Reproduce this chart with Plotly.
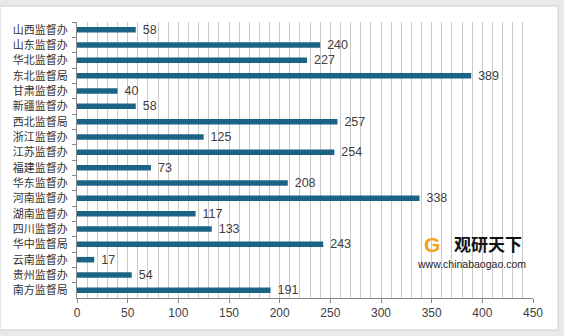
import plotly.graph_objects as go

categories = ["山西监督办", "山东监督办", "华北监督办", "东北监督局", "甘肃监督办", "新疆监督办",
              "西北监督局", "浙江监督办", "江苏监督办", "福建监督办", "华东监督办", "河南监督办",
              "湖南监督办", "四川监督办", "华中监督局", "云南监督办", "贵州监督办", "南方监督局"]
values = [58, 240, 227, 389, 40, 58, 257, 125, 254, 73, 208, 338, 117, 133, 243, 17, 54, 191]
x_ticks = [0, 50, 100, 150, 200, 250, 300, 350, 400, 450]

fig = go.Figure()
fig.add_trace(go.Bar(
    y=categories, x=values, orientation="h",
    marker=dict(color="#1c6485", line=dict(width=0)),
    width=0.36,
    text=["  " + str(v) for v in values], textposition="outside",
    constraintext="none",
    textfont=dict(size=12.5, color="#404040", family="Liberation Sans, Arial"),
    cliponaxis=False,
))

fig.update_layout(
    width=564, height=336,
    margin=dict(l=77, r=31, t=22, b=38),
    paper_bgcolor="#e9e9e9",
    plot_bgcolor="#f6f6f6",
    showlegend=False,
    bargap=0.6,
    font=dict(family="Noto Sans CJK SC", size=11, color="#333333"),
    shapes=[dict(type="rect", xref="paper", yref="paper",
                 x0=-77/456, x1=(558-77)/456, y0=-(330-298)/276, y1=(22-6)/276 + 1,
                 fillcolor="white", line=dict(color="#d0d0d0", width=1), layer="below")],
    annotations=[
        dict(text="<b>观研天下</b>", x=(452-77)/456, y=(298-243)/276, xref="paper", yref="paper",
             showarrow=False, font=dict(size=17, color="#111111", family="Noto Sans CJK SC"),
             xanchor="left", yanchor="middle"),
        dict(text="www.chinabaogao.com", x=(415-77)/456, y=(298-264)/276, xref="paper", yref="paper",
             showarrow=False, font=dict(size=10.5, color="#222222", family="Liberation Sans, Arial"),
             xanchor="left", yanchor="middle"),
        dict(text="<b>G</b>", x=(432-77)/456, y=(298-244)/276, xref="paper", yref="paper",
             showarrow=False, font=dict(size=21, color="#f5a21b", family="Liberation Sans"),
             xanchor="center", yanchor="middle"),
    ],
)

fig.update_xaxes(
    range=[0, 450], tickvals=x_ticks, ticks="outside", ticklen=4, tickcolor="#888888",
    showline=True, linecolor="#888888", linewidth=1,
    showgrid=True, gridcolor="#c9c9c9", gridwidth=1,
    minor=dict(dtick=10, showgrid=True, gridcolor="#c9c9c9", gridwidth=1),
    tickfont=dict(size=12, color="#404040", family="Liberation Sans, Arial"),
    zeroline=False, fixedrange=True,
)
fig.update_yaxes(
    autorange="reversed", ticks="outside", ticklen=4, tickcolor="#888888", tickson="boundaries",
    showline=True, linecolor="#888888", linewidth=1, showgrid=False,
    tickfont=dict(size=11, color="#333333", family="Noto Sans CJK SC"),
    ticklabelstandoff=6,
    fixedrange=True,
)

fig.write_html("out.html")
